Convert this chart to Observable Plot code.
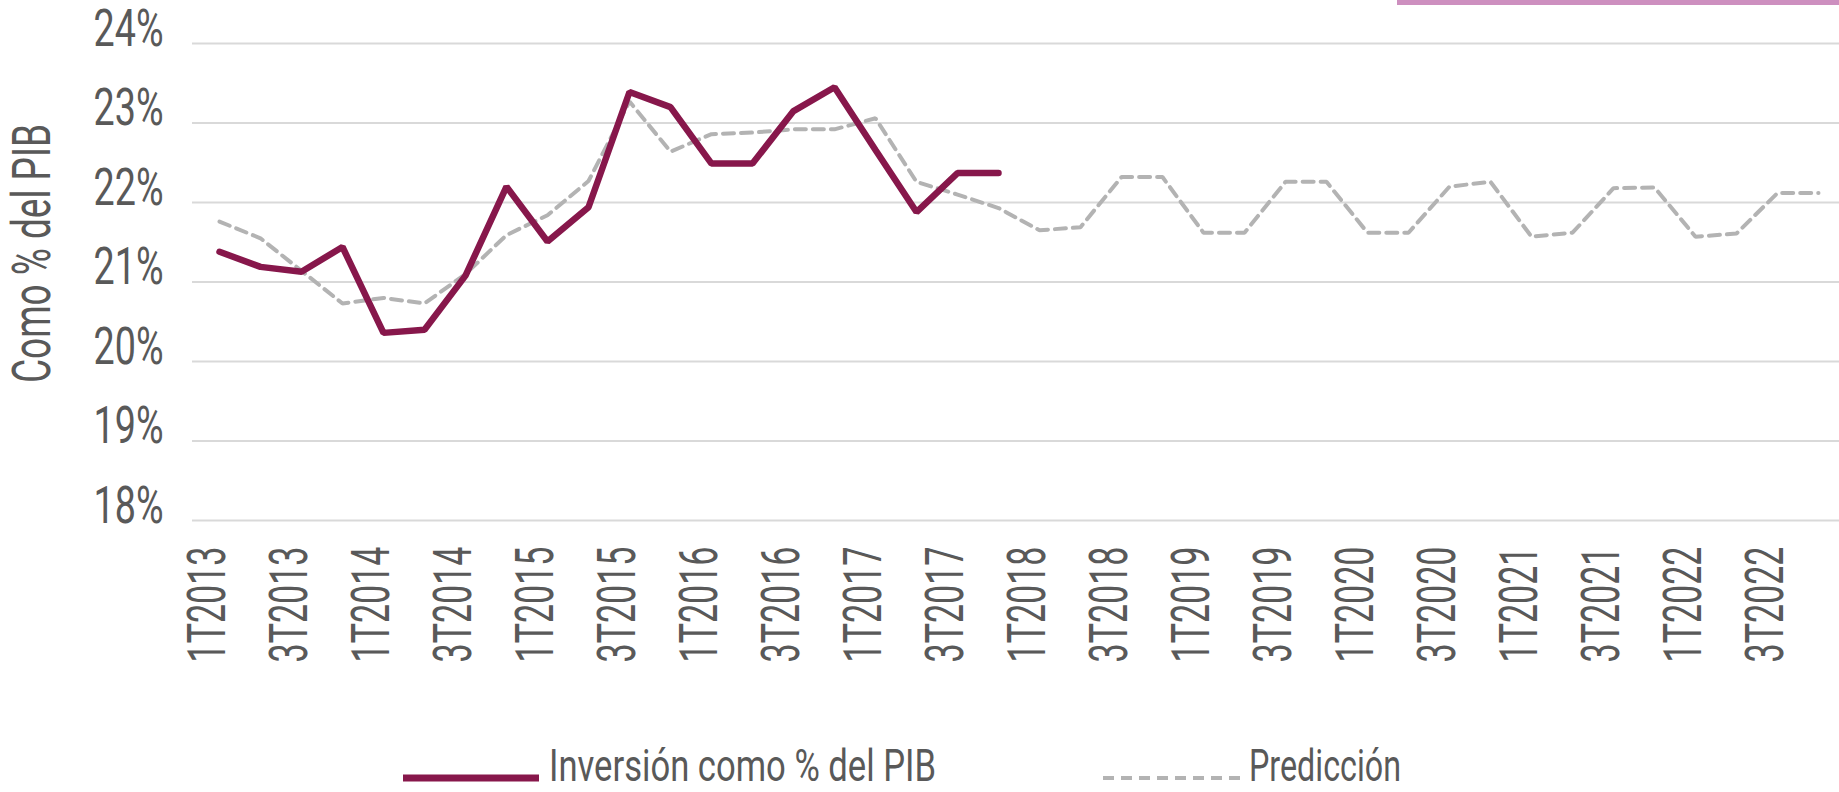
<!DOCTYPE html>
<html><head><meta charset="utf-8">
<script src="https://cdn.jsdelivr.net/npm/d3@7"></script>
<script src="https://cdn.jsdelivr.net/npm/@observablehq/plot@0.6"></script>
<style>
body{margin:0;background:#fff;width:1839px;height:792px;overflow:hidden;position:relative;font-family:Roboto,sans-serif;color:#595959}
#chart{position:absolute;left:0;top:0}
#legend{position:absolute;left:0;top:700px}
.pink{position:absolute;left:1397px;top:0;width:442px;height:5px;background:#cd8fbf}
</style></head><body>
<div id="chart"></div>
<div class="pink"></div>
<div id="legend"></div>
<script>
const quarters = [
  "1T2013","2T2013","3T2013","4T2013","1T2014","2T2014","3T2014","4T2014",
  "1T2015","2T2015","3T2015","4T2015","1T2016","2T2016","3T2016","4T2016",
  "1T2017","2T2017","3T2017","4T2017","1T2018","2T2018","3T2018","4T2018",
  "1T2019","2T2019","3T2019","4T2019","1T2020","2T2020","3T2020","4T2020",
  "1T2021","2T2021","3T2021","4T2021","1T2022","2T2022","3T2022","4T2022"
];
const inversion = [
  21.38, 21.19, 21.13, 21.44, 20.36, 20.40, 21.08, 22.20,
  21.51, 21.94, 23.39, 23.20, 22.49, 22.49, 23.15, 23.45,
  22.66, 21.88, 22.37, 22.37
];
const prediccion = [
  21.76, 21.55, 21.14, 20.73, 20.80, 20.73, 21.10, 21.59,
  21.84, 22.27, 23.27, 22.64, 22.86, 22.88, 22.92, 22.92,
  23.06, 22.26, 22.10, 21.93, 21.65, 21.69, 22.32, 22.32,
  21.62, 21.62, 22.26, 22.26, 21.62, 21.62, 22.20, 22.26,
  21.57, 21.62, 22.18, 22.19, 21.57, 21.61, 22.12, 22.12
];
const yTicks = [18, 19, 20, 21, 22, 23, 24];
const xTickLabels = [
  "1T2013","3T2013","1T2014","3T2014","1T2015","3T2015","1T2016","3T2016",
  "1T2017","3T2017","1T2018","3T2018","1T2019","3T2019","1T2020","3T2020",
  "1T2021","3T2021","1T2022","3T2022"
];
const yTitle = "Como % del PIB";
const seriesNames = ["Inversión como % del PIB", "Predicción"];
const colors = {inv: "#87174b", pred: "#b3b3b3", text: "#595959", grid: "#d9d9d9"};

const invRows = inversion.map((v, i) => ({q: quarters[i], v}));
const predRows = prediccion.map((v, i) => ({q: quarters[i], v}));
const FONT = 'Roboto, "DejaVu Sans", sans-serif';

const plot = Plot.plot({
  width: 1839, height: 700,
  marginTop: 43, marginBottom: 180, marginLeft: 192, marginRight: 0,
  style: {fontFamily: FONT, color: colors.text, background: "transparent", overflow: "visible"},
  x: {type: "point", domain: quarters, range: [192, 1844], padding: 0.5},
  y: {domain: [18, 24]},
  marks: [
    Plot.gridY(yTicks, {stroke: colors.grid, strokeWidth: 2, strokeOpacity: 1}),
    Plot.axisY(yTicks, {tickSize: 0, tickPadding: 29, dy: -14.6, tickFormat: d => d + "%", fontSize: 52, label: null, fill: colors.text}),
    Plot.axisX(xTickLabels, {tickSize: 0, tickPadding: 26, dx: -11, tickRotate: -90, fontSize: 53, label: null, fill: colors.text}),
    Plot.text([yTitle], {text: d => d, frameAnchor: "left", textAnchor: "middle", rotate: -90, dx: -159, dy: -28.5, fontSize: 53, fill: colors.text}),
    Plot.line(predRows, {x: "q", y: "v", stroke: colors.pred, strokeWidth: 4, strokeDasharray: "11,7", strokeLinejoin: "miter"}),
    Plot.line(invRows, {x: "q", y: "v", stroke: colors.inv, strokeWidth: 6.5, strokeLinejoin: "miter"})
  ]
});
document.getElementById("chart").appendChild(plot);

// condense glyphs to match the narrow typeface of the original
const svg = d3.select(plot);
svg.selectAll('g[aria-label="y-axis tick label"] text').attr("textLength", 70).attr("lengthAdjust", "spacingAndGlyphs");
svg.selectAll('g[aria-label="x-axis tick label"] text').attr("textLength", 116).attr("lengthAdjust", "spacingAndGlyphs");
svg.selectAll('g[aria-label="text"] text').attr("textLength", 259).attr("lengthAdjust", "spacingAndGlyphs");

// legend
const leg = d3.select("#legend").append("svg").attr("width", 1839).attr("height", 92)
  .style("font-family", FONT);
const items = [
  {name: seriesNames[0], color: colors.inv, w: 7, dash: null, swX: 403, swW: 136, txX: 549, len: 387},
  {name: seriesNames[1], color: colors.pred, w: 4, dash: "11,7", swX: 1103, swW: 141, txX: 1249, len: 152}
];
for (const it of items) {
  leg.append("line").attr("x1", it.swX).attr("x2", it.swX + it.swW).attr("y1", 78).attr("y2", 78)
    .attr("stroke", it.color).attr("stroke-width", it.w)
    .attr("stroke-dasharray", it.dash);
  leg.append("text").attr("x", it.txX).attr("y", 81).attr("font-size", 45).attr("fill", colors.text)
    .attr("textLength", it.len).attr("lengthAdjust", "spacingAndGlyphs").text(it.name);
}
</script>
</body></html>
